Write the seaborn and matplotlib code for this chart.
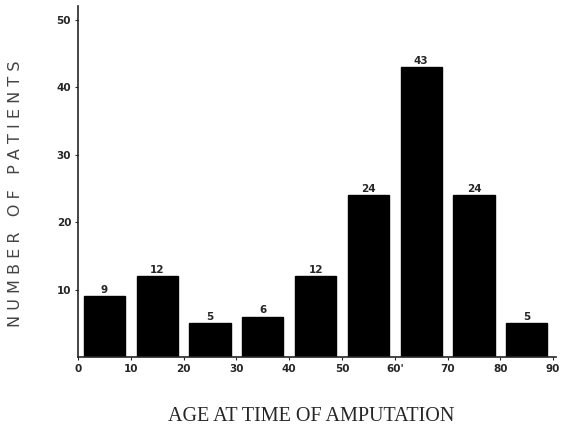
import matplotlib
matplotlib.use("Agg")
import matplotlib.pyplot as plt
import seaborn as sns

# age groups (bin midpoints), patients per decade
age_mid = [5, 15, 25, 35, 45, 55, 65, 75, 85]
patients = [9, 12, 5, 6, 12, 24, 43, 24, 5]
x_ticks = [0, 10, 20, 30, 40, 50, 60, 70, 80, 90]
x_tick_labels = ["0", "10", "20", "30", "40", "50", "60'", "70", "80", "90"]
y_ticks = [10, 20, 30, 40, 50]

sns.set_style("ticks")
plt.rcParams['font.family'] = ['DejaVu Sans']

fig = plt.figure(figsize=(5.62, 4.25), dpi=100)
ax = fig.add_axes([0.139, 0.16, 0.85, 0.825])

sns.barplot(x=age_mid, y=patients, native_scale=True, width=0.78,
            color="black", edgecolor="black", saturation=1, ax=ax)

for c in ax.containers:
    ax.bar_label(c, fontsize=7.5, fontweight="bold", padding=1)

ax.set_xlim(0, 90.5)
ax.set_ylim(0, 52)
ax.set_xticks(x_ticks)
ax.set_xticklabels(x_tick_labels, fontsize=7.5, fontweight="bold")
ax.set_yticks(y_ticks)
ax.set_yticklabels([str(v) for v in y_ticks], fontsize=7.5, fontweight="bold")
ax.tick_params(axis="both", length=2, width=0.8, pad=3)
sns.despine(ax=ax)
for s in ["left", "bottom"]:
    ax.spines[s].set_linewidth(1.2)

ax.set_xlabel("AGE AT TIME OF AMPUTATION", family="Liberation Serif",
              fontsize=14.5)
ax.xaxis.set_label_coords(0.488, -0.143)
ax.set_ylabel("N U M B E R   O F   P A T I E N T S", fontsize=11.5,
              color="#444444")
ax.yaxis.set_label_coords(-0.115, 0.465)

fig.savefig("out.png", dpi=100)
